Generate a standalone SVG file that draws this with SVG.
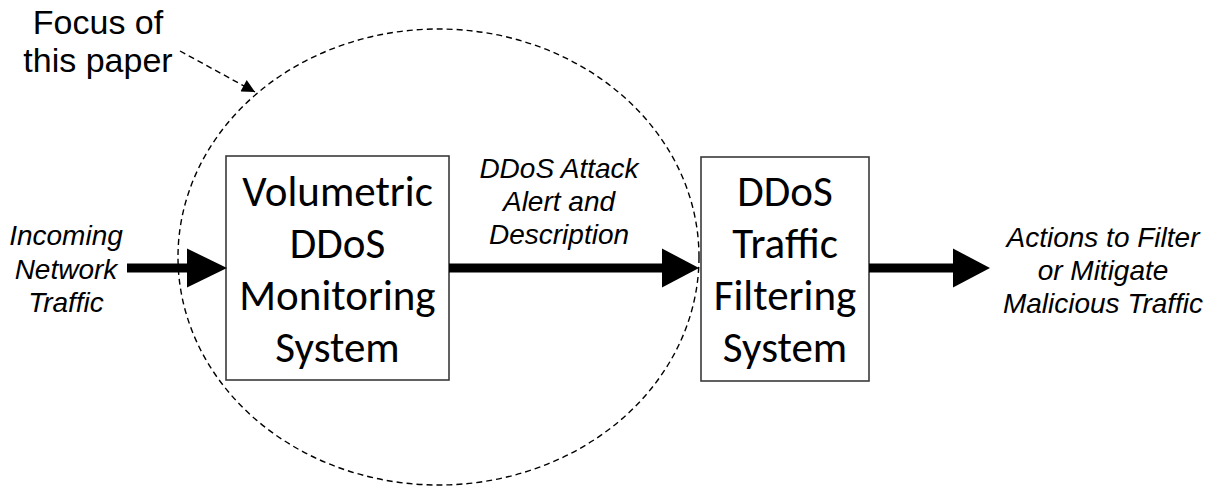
<svg xmlns="http://www.w3.org/2000/svg" width="1209" height="486" viewBox="0 0 1209 486">
<style>
.box{fill:#fff;stroke:#3a3a3a;stroke-width:1.6}
.bt{font-family:Carlito,Lato,"Liberation Sans",sans-serif;font-size:43px;fill:#000;text-anchor:middle}
.lbl{font-family:"Liberation Sans",Arial,sans-serif;font-style:italic;font-size:28px;fill:#000;text-anchor:middle}
.ttl{font-family:"Liberation Sans",Arial,sans-serif;font-size:34px;fill:#000;text-anchor:middle}
.thick{stroke:#000;stroke-width:9;fill:none}
.head{fill:#000}
.dash{fill:none;stroke:#000;stroke-width:1.4;stroke-dasharray:6 4}
</style>
<defs>
<marker id="dh" viewBox="0 0 10 10" refX="10" refY="5" markerWidth="15" markerHeight="13" markerUnits="userSpaceOnUse" orient="auto">
<path d="M0,0 L10,5 L0,10 Z" fill="#000"/>
</marker>
</defs>
<g id="focus-region">
<ellipse class="dash" cx="438.5" cy="257" rx="260.5" ry="228"/>
</g>
<g id="focus-label">
<text class="ttl" x="98" y="34">Focus of</text>
<text class="ttl" x="98" y="72">this paper</text>
</g>
<g id="monitoring">
<rect class="box" x="226" y="156" width="223" height="224"/>
<text class="bt" x="337.5" y="206">Volumetric</text>
<text class="bt" x="337.5" y="258">DDoS</text>
<text class="bt" x="337.5" y="310">Monitoring</text>
<text class="bt" x="337.5" y="362">System</text>
</g>
<g id="filtering">
<rect class="box" x="701" y="157" width="168" height="224"/>
<text class="bt" x="785" y="206">DDoS</text>
<text class="bt" x="785" y="258">Traffic</text>
<text class="bt" x="785" y="310">Filtering</text>
<text class="bt" x="785" y="362">System</text>
</g>
<g id="incoming-label">
<text class="lbl" x="66" y="245">Incoming</text>
<text class="lbl" x="66" y="279">Network</text>
<text class="lbl" x="66" y="312">Traffic</text>
</g>
<g id="alert-label">
<text class="lbl" x="559" y="177.5">DDoS Attack</text>
<text class="lbl" x="559" y="210.5">Alert and</text>
<text class="lbl" x="559" y="243.5">Description</text>
</g>
<g id="actions-label">
<text class="lbl" x="1103" y="247">Actions to Filter</text>
<text class="lbl" x="1103" y="280">or Mitigate</text>
<text class="lbl" x="1103" y="313">Malicious Traffic</text>
</g>
<g id="connectors">
<line class="thick" x1="127" y1="268" x2="189" y2="268"/>
<path class="head" d="M187,248.5 L227,268 L187,287.5 Z"/>
<line class="thick" x1="449" y1="268" x2="664" y2="268"/>
<path class="head" d="M662,248.5 L699,268 L662,287.5 Z"/>
<line class="thick" x1="869" y1="268" x2="955" y2="268"/>
<path class="head" d="M953,248.5 L990,268 L953,287.5 Z"/>
<path class="dash" d="M180,51 L255,92" marker-end="url(#dh)"/>
</g>
</svg>
